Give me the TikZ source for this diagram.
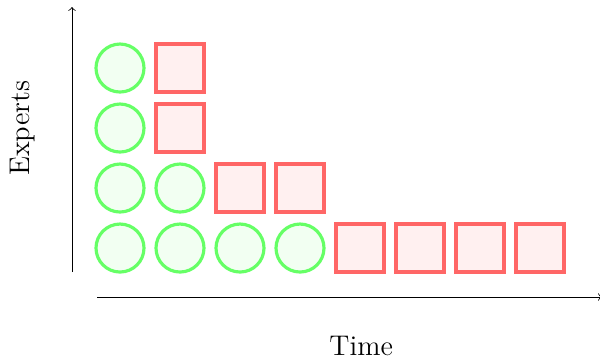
\documentclass[tikz,border=0pt]{standalone}
\usepackage{tikz}
\usetikzlibrary{arrows}
\definecolor{busyline}{RGB}{102,255,102}
\definecolor{busyfill}{RGB}{242,255,242}
\definecolor{idleline}{RGB}{255,102,102}
\definecolor{idlefill}{RGB}{255,240,240}

\begin{document}
\begin{tikzpicture}[
   busy/.style={circle,draw=busyline,fill=busyfill,line width=1.5pt,minimum size=0.8cm,inner sep=0pt},
   idle/.style={rectangle,draw=idleline,fill=idlefill,line width=1.5pt,minimum size=0.8cm,inner sep=0pt},
   lbl/.style={font=\fontsize{13.5pt}{16pt}\selectfont}]
   \useasboundingbox (0,0) rectangle (10,5.967);
   % axes
   \coordinate (yo) at (1.2,1.433);
   \coordinate (yt) at (1.2,5.85);
   \coordinate (xo) at (1.617,1.017);
   \coordinate (xt) at (10.03,1.017);
   \draw[->] (yo) -- (yt);
   \draw[->] (xo) -- (xt);
   \node[lbl,rotate=90] (experts) at (0.37,3.83) {Experts};
   \node[lbl] (time) at (6.02,0.2) {Time};
   % bottom row
   \foreach \i in {2,3,4,5} \node[busy] (b1-\i) at (\i,1.833) {};
   \foreach \i in {6,7,8,9} \node[idle] (i1-\i) at (\i,1.833) {};
   % second row
   \foreach \i in {2,3} \node[busy] (b2-\i) at (\i,2.833) {};
   \foreach \i in {4,5} \node[idle] (i2-\i) at (\i,2.833) {};
   % upper rows
   \node[busy] (b3-2) at (2,3.833) {};
   \node[idle] (i3-3) at (3,3.833) {};
   \node[busy] (b4-2) at (2,4.833) {};
   \node[idle] (i4-3) at (3,4.833) {};
\end{tikzpicture}
\end{document}
